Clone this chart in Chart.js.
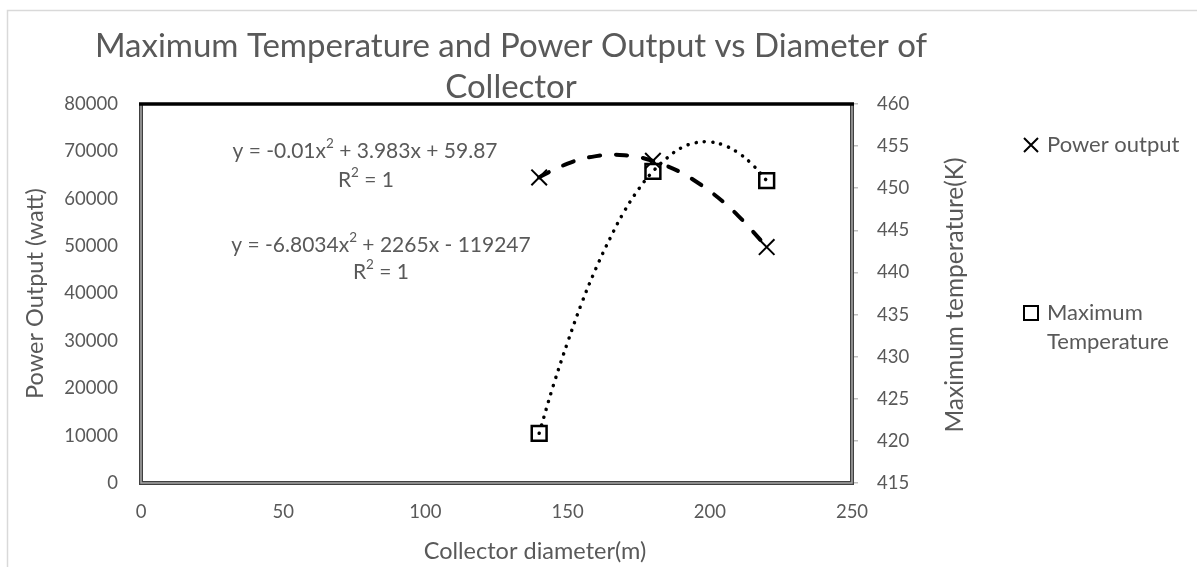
<!DOCTYPE html>
<html>
<head>
<meta charset="utf-8">
<script src="https://cdn.jsdelivr.net/npm/chart.js@4.4.0/dist/chart.umd.min.js"></script>
<style>
  html, body { margin: 0; padding: 0; background: #fff; }
  #wrap { width: 1197px; height: 567px; }
</style>
</head>
<body>
<div id="wrap"><canvas id="chart" width="1197" height="567"></canvas></div>
<script>
// ===== data =====
const diameters = [140, 180, 220];
const powerOutput = [64500, 68000, 49800];
const maxTemperature = [420.9, 452.0, 450.9];

// trendline curves as drawn (sampled every 5 m)
const trendX = [140, 145, 150, 155, 160, 165, 170, 175, 180, 185, 190, 195, 200, 205, 210, 215, 220];
const powerTrend = [64500, 66100, 67400, 68400, 69000, 69300, 69200, 68800, 68000, 66900, 65500, 63700, 61600, 59200, 56400, 53200, 49800];
const tempTrend = [420.9, 426.6, 431.7, 436.4, 440.5, 444.1, 447.3, 449.9, 452.0, 453.6, 454.8, 455.4, 455.5, 455.1, 454.2, 452.8, 450.9];

const titleLines = ["Maximum Temperature and Power Output vs Diameter of", "Collector"];
const xTitle = "Collector diameter(m)";
const yTitle = "Power Output (watt)";
const y1Title = "Maximum temperature(K)";
const legendPower = "Power output";
const legendTemp = ["Maximum", "Temperature"];
const eqTemp = [["y = -0.01x", "2", " + 3.983x + 59.87"], ["R", "2", " = 1"]];
const eqPower = [["y = -6.8034x", "2", " + 2265x - 119247"], ["R", "2", " = 1"]];

const FONT = "Lato, 'Open Sans', sans-serif";
const GREY = "#595959";

const pts = (xs, ys) => xs.map((x, i) => ({ x, y: ys[i] }));

// text with a superscript in the middle, centred on cx
function drawEq(ctx, parts, cx, cy) {
  const big = `21px ${FONT}`, small = `13.5px ${FONT}`;
  ctx.font = big;
  const w0 = ctx.measureText(parts[0]).width;
  const w2 = ctx.measureText(parts[2]).width;
  ctx.font = small;
  const w1 = ctx.measureText(parts[1]).width;
  let x = cx - (w0 + w1 + w2) / 2;
  ctx.textAlign = "left";
  ctx.textBaseline = "middle";
  ctx.font = big;
  ctx.fillText(parts[0], x, cy);
  x += w0;
  ctx.font = small;
  ctx.fillText(parts[1], x, cy - 7);
  x += w1;
  ctx.font = big;
  ctx.fillText(parts[2], x, cy);
}

const overlay = {
  id: "overlay",
  beforeDraw(chart) {
    const ctx = chart.ctx;
    ctx.save();
    ctx.strokeStyle = "#d9d9d9";
    ctx.lineWidth = 1.5;
    ctx.beginPath();
    ctx.moveTo(7.5, 570);
    ctx.lineTo(7.5, 10.5);
    ctx.lineTo(1200, 10.5);
    ctx.stroke();
    ctx.restore();
  },
  beforeDatasetsDraw(chart) {
    const { ctx, chartArea: a } = chart;
    ctx.save();
    ctx.beginPath();
    ctx.moveTo(a.left, a.top);
    ctx.lineTo(a.left, a.bottom);
    ctx.lineTo(a.right, a.bottom);
    ctx.lineTo(a.right, a.top);
    ctx.strokeStyle = "#404040";
    ctx.lineWidth = 4;
    ctx.stroke();
    ctx.strokeStyle = "#a6a6a6";
    ctx.lineWidth = 1.5;
    ctx.stroke();
    ctx.beginPath();
    ctx.moveTo(a.left - 2, a.top);
    ctx.lineTo(a.right + 2, a.top);
    ctx.strokeStyle = "#000";
    ctx.lineWidth = 3.5;
    ctx.stroke();
    ctx.restore();
  },
  afterDraw(chart) {
    const ctx = chart.ctx;
    ctx.save();
    ctx.fillStyle = GREY;

    // chart title
    ctx.font = `33px ${FONT}`;
    ctx.textAlign = "center";
    ctx.textBaseline = "alphabetic";
    ctx.fillText(titleLines[0], 511, 57);
    ctx.fillText(titleLines[1], 511, 98);

    // x axis title
    ctx.font = `23.5px ${FONT}`;
    ctx.textBaseline = "middle";
    ctx.fillText(xTitle, 535, 551);

    // right axis title, reading upwards
    ctx.font = `24.5px ${FONT}`;
    ctx.save();
    ctx.translate(955, 295);
    ctx.rotate(-Math.PI / 2);
    ctx.fillText(y1Title, 0, 0);
    ctx.restore();

    // trendline equations
    drawEq(ctx, eqTemp[0], 365, 151);
    drawEq(ctx, eqTemp[1], 366, 180);
    drawEq(ctx, eqPower[0], 381, 245);
    drawEq(ctx, eqPower[1], 381, 272);

    // legend
    ctx.font = `22px ${FONT}`;
    ctx.textAlign = "left";
    ctx.textBaseline = "middle";
    ctx.fillText(legendPower, 1047, 145);
    ctx.fillText(legendTemp[0], 1047, 313);
    ctx.fillText(legendTemp[1], 1047, 342);
    ctx.strokeStyle = "#000";
    ctx.lineWidth = 2;
    ctx.beginPath();
    ctx.moveTo(1024, 138); ctx.lineTo(1038, 152);
    ctx.moveTo(1038, 138); ctx.lineTo(1024, 152);
    ctx.stroke();
    ctx.strokeRect(1024, 306, 14, 14);
    ctx.restore();
  }
};

const tickFont = { family: FONT, size: 18.5 };

new Chart(document.getElementById("chart"), {
  type: "scatter",
  data: {
    datasets: [
      {
        label: legendPower,
        data: pts(diameters, powerOutput),
        yAxisID: "y",
        pointStyle: "crossRot",
        pointRadius: 11,
        pointBorderWidth: 2,
        borderColor: "#000",
        backgroundColor: "#000",
        order: 0
      },
      {
        label: legendTemp.join(" "),
        data: pts(diameters, maxTemperature),
        yAxisID: "y1",
        pointStyle: "rect",
        pointRadius: 10.5,
        pointBorderWidth: 2.5,
        borderColor: "#000",
        backgroundColor: "rgba(0,0,0,0)",
        order: 0
      },
      {
        label: "Poly. (Power output)",
        data: pts(trendX, powerTrend),
        yAxisID: "y",
        showLine: true,
        pointRadius: 0,
        borderColor: "#000",
        borderWidth: 4,
        borderDash: [11, 16],
        borderCapStyle: "round",
        tension: 0.4,
        order: 1
      },
      {
        label: "Poly. (Maximum Temperature)",
        data: pts(trendX, tempTrend),
        yAxisID: "y1",
        showLine: true,
        pointRadius: 0,
        borderColor: "#000",
        borderWidth: 3.5,
        borderDash: [0.1, 8.2],
        borderCapStyle: "round",
        tension: 0.4,
        order: 1
      }
    ]
  },
  options: {
    responsive: false,
    animation: false,
    layout: { padding: { left: 0, right: 0, top: 104, bottom: 0 } },
    plugins: {
      legend: { display: false },
      title: { display: false },
      tooltip: { enabled: false }
    },
    scales: {
      x: {
        type: "linear",
        min: 0,
        max: 250,
        grid: { display: false, drawTicks: false },
        border: { display: false },
        ticks: { stepSize: 50, color: GREY, font: tickFont, padding: 18, maxRotation: 0 },
        afterFit: (s) => { s.height = 84; }
      },
      y: {
        position: "left",
        min: 0,
        max: 80000,
        grid: { display: false, drawTicks: false },
        border: { display: false },
        ticks: { stepSize: 10000, color: GREY, font: tickFont, padding: 23, callback: (v) => String(v) },
        title: { display: true, text: yTitle, color: GREY, font: { family: FONT, size: 23.5 }, padding: { top: 21, bottom: 0 } },
        afterFit: (s) => { s.width = 141; }
      },
      y1: {
        position: "right",
        min: 415,
        max: 460,
        grid: { display: true, drawOnChartArea: false, drawTicks: true, tickLength: 6, color: "#bfbfbf", lineWidth: 1.5 },
        border: { display: false },
        ticks: { stepSize: 5, color: GREY, font: tickFont, padding: 19, callback: (v) => String(v) },
        afterFit: (s) => { s.width = 1197 - 852; }
      }
    }
  },
  plugins: [overlay]
});
</script>
</body>
</html>
